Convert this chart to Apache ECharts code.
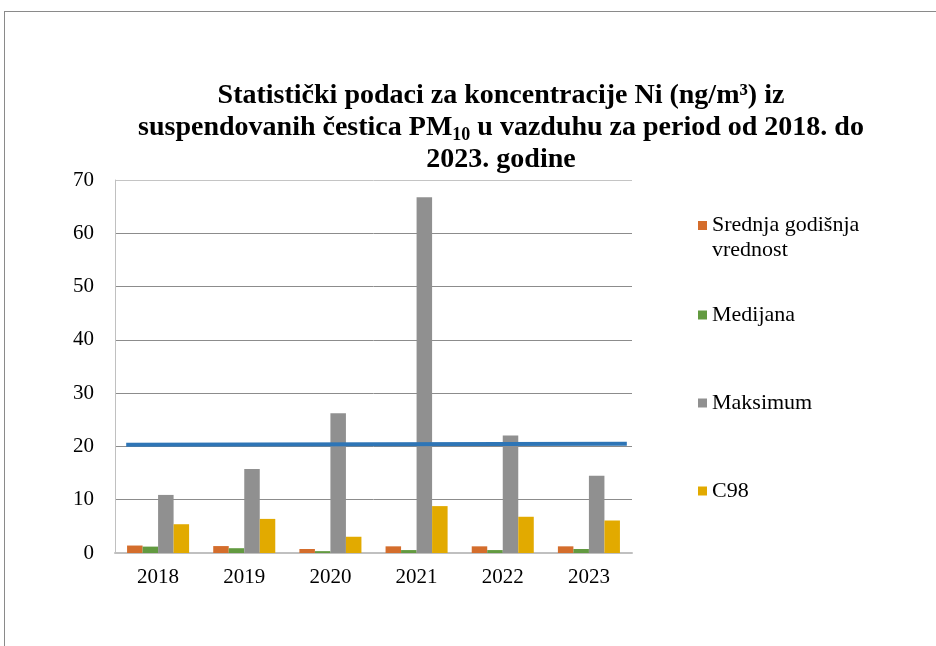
<!DOCTYPE html>
<html>
<head>
<meta charset="utf-8">
<title>Ni PM10</title>
<script src="https://cdn.jsdelivr.net/npm/echarts@6/dist/echarts.min.js"></script>
<style>
  html, body { margin: 0; padding: 0; background: #fff; }
  #frame { position: absolute; left: 4px; top: 11px; width: 932px; height: 635px;
           border-top: 1px solid #8a8a8a; border-left: 1px solid #8a8a8a; }
  #main { position: absolute; left: 0; top: 0; width: 936px; height: 646px; }
</style>
</head>
<body>
<div id="frame"></div>
<div id="main"></div>
<script>
// kategorije i vrednosti (ng/m3)
var godine = ['2018', '2019', '2020', '2021', '2022', '2023'];
var srednja = [1.4, 1.3, 0.75, 1.25, 1.25, 1.25];
var medijana = [1.2, 0.9, 0.35, 0.55, 0.55, 0.75];
var maksimum = [10.9, 15.75, 26.25, 66.75, 22.05, 14.5];
var c98 = [5.4, 6.4, 3.05, 8.8, 6.8, 6.1];
// granicna vrednost (plava linija): x u jedinicama kategorija, y u ng/m3
var granicaX = [0.13, 5.94];
var granicaY = [20.3, 20.5];
var yTicks = [0, 10, 20, 30, 40, 50, 60, 70];

var serif = '"Liberation Serif", "Times New Roman", serif';
var myChart = echarts.init(document.getElementById('main'));

var granica = granicaX.map(function (x, i) { return [x, granicaY[i]]; });

function legenda(name, top, extra) {
	var l = {
		show: true,
		orient: 'vertical',
		left: 693,
		top: top,
		itemWidth: 9,
		itemHeight: 9,
		icon: 'rect',
		data: [name],
		textStyle: { fontFamily: serif, fontSize: 22, color: '#000', lineHeight: 22 }
	};
	if (extra) { Object.assign(l.textStyle, extra.textStyle); l.formatter = extra.formatter; }
	return l;
}

var option = {
	animation: false,
	title: {
		text: 'Statistički podaci za koncentracije Ni (ng/m³) iz\nsuspendovanih čestica PM{sub|10} u vazduhu za period od 2018. do\n2023. godine',
		left: 496,
		top: 75,
		textAlign: 'center',
		textStyle: {
			fontFamily: serif, fontWeight: 'bold', fontSize: 28, color: '#000', lineHeight: 32,
			rich: {
				sub: { fontFamily: serif, fontWeight: 'bold', fontSize: 18, color: '#000', padding: [14, 0, 0, 0], lineHeight: 32 }
			}
		}
	},
	legend: [
		legenda('Srednja godišnja vrednost', 183, {
			// prazan red na vrhu da ikona stoji uz prvi red teksta
			formatter: function () { return ' \nSrednja godišnja\nvrednost'; },
			textStyle: { lineHeight: 25 }
		}),
		legenda('Medijana', 299),
		legenda('Maksimum', 387),
		legenda('C98', 475)
	],
	grid: { left: 115, right: 304, top: 180, bottom: 93, containLabel: false },
	xAxis: [{
		type: 'category',
		data: godine,
		axisLine: { lineStyle: { color: '#c0c0c0', width: 2 } },
		axisTick: { show: false },
		axisLabel: { fontFamily: serif, fontSize: 21, color: '#000', margin: 14 }
	}, {
		type: 'value',
		min: 0, max: 6,
		show: false
	}],
	yAxis: {
		type: 'value',
		min: 0, max: 70, interval: 10,
		axisLine: { show: true, lineStyle: { color: '#c0c0c0', width: 1 } },
		axisTick: { show: false },
		axisLabel: { fontFamily: serif, fontSize: 21, color: '#000', margin: 21 },
		splitLine: { lineStyle: { color: yTicks.map(function (t) { return t === 70 ? '#c4c4c4' : '#8c8c8c'; }), width: 1 } }
	},
	series: [
		{ name: 'Srednja godišnja vrednost', type: 'bar', data: srednja, itemStyle: { color: '#d46d2c' }, barGap: '0%', barCategoryGap: '28%' },
		{ name: 'Medijana', type: 'bar', data: medijana, itemStyle: { color: '#629a40' } },
		{ name: 'Maksimum', type: 'bar', data: maksimum, itemStyle: { color: '#909090' } },
		{ name: 'C98', type: 'bar', data: c98, itemStyle: { color: '#e2aa00' } },
		{ name: 'Granica', type: 'line', xAxisIndex: 1, data: granica, symbol: 'none',
		  lineStyle: { color: '#2e75b6', width: 4 }, z: 5 }
	]
};

myChart.setOption(option);
</script>
</body>
</html>
